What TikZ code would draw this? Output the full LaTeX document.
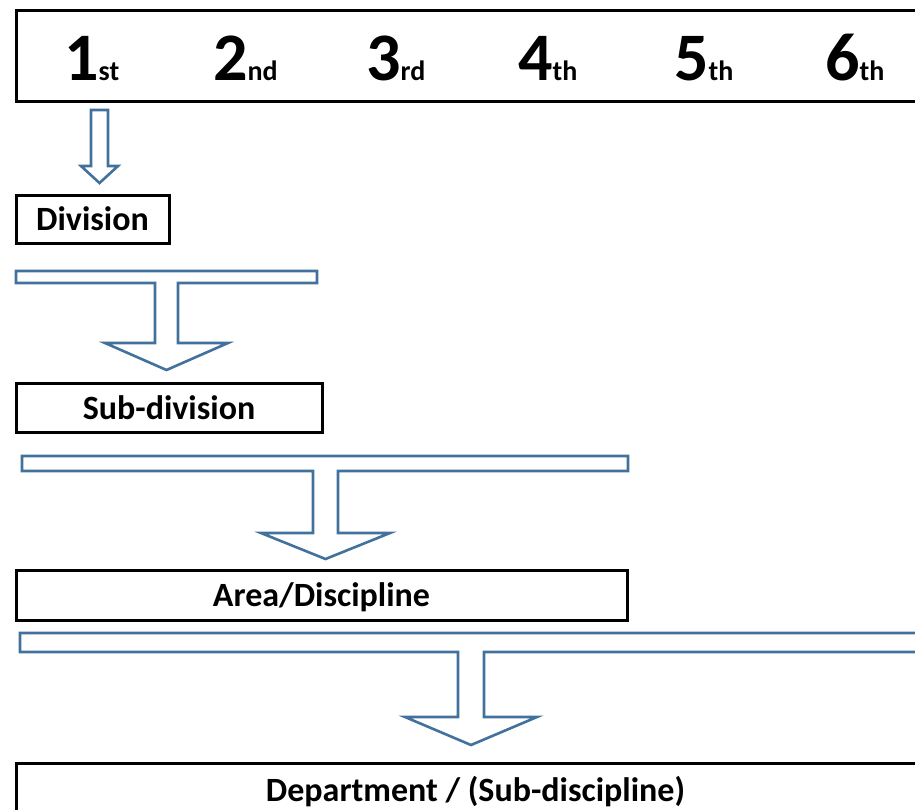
\documentclass[tikz,border=0pt]{standalone}
\usepackage{fontspec}
\setmainfont{Carlito}
\definecolor{arrowblue}{RGB}{65,113,156}
\newcommand{\ordno}[2]{#1{\fontsize{28}{30}\selectfont #2}}

\begin{document}
\begin{tikzpicture}[
  x=1pt,
  y=-1pt,
  font=\bfseries\fontsize{34}{40}\selectfont,
  level/.style={draw, line width=3pt, inner sep=0pt, minimum height=48pt,
    text depth=0pt},
  rankno/.style={anchor=base west, inner sep=0pt,
    font=\bfseries\fontsize{68}{72}\selectfont},
  blockarrow/.style={draw=arrowblue, line width=2.6pt, line join=miter}
]
  \useasboundingbox (0,0) rectangle (915,809);
  \clip (0,0) rectangle (915,809);

  \node[draw, line width=3pt, minimum width=919pt, minimum height=91pt] (ranks) at (475.5,55.5) {};
  \node[rankno] (r1) at (64,80) {\ordno{1}{st}};
  \node[rankno] (r2) at (213,80) {\ordno{2}{nd}};
  \node[rankno] (r3) at (366,80) {\ordno{3}{rd}};
  \node[rankno] (r4) at (518,80) {\ordno{4}{th}};
  \node[rankno] (r5) at (674,80) {\ordno{5}{th}};
  \node[rankno] (r6) at (825,80) {\ordno{6}{th}};

  \node[level, minimum width=153pt] (division) at (92.5,219) {Division};
  \node[level, minimum width=306pt, minimum height=49pt] (subdivision) at (169,407.5) {Sub-division};
  \node[level, minimum width=611pt, minimum height=50pt] (area) at (321.5,595) {Area/Discipline};
  \node[level, minimum width=919pt, minimum height=52pt] (department) at (475.5,789) {Department / (Sub-discipline)};

  \draw[blockarrow] (91,110) -- (108,110) -- (108,166) -- (118,166) -- (99.5,183)
    -- (81,166) -- (91,166) -- cycle;
  \draw[blockarrow] (16,271) -- (317,271) -- (317,283) -- (178,283) -- (178,343)
    -- (228,343) -- (166.5,370) -- (105,343) -- (155,343) -- (155,283) -- (16,283) -- cycle;
  \draw[blockarrow] (22,456) -- (628,456) -- (628,471) -- (338,471) -- (338,533)
    -- (390,533) -- (325.5,559) -- (261,533) -- (313,533) -- (313,471) -- (22,471) -- cycle;
  \draw[blockarrow] (20,633) -- (935,633) -- (935,652) -- (484,652) -- (484,717)
    -- (537,717) -- (471,745) -- (405,717) -- (458,717) -- (458,652) -- (20,652) -- cycle;
\end{tikzpicture}
\end{document}
